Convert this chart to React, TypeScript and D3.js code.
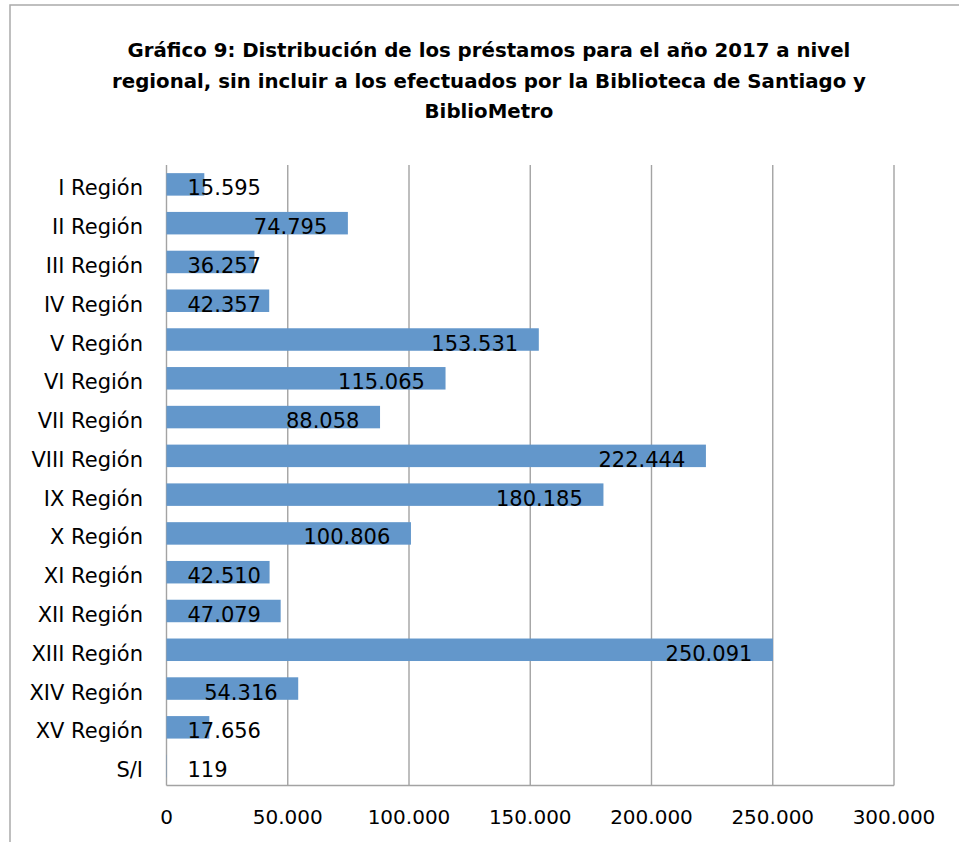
import React, { useEffect, useRef } from "react";
import * as d3 from "d3";

const titleLines = [
  "Gráfico 9: Distribución de los préstamos para el año 2017 a nivel",
  "regional, sin incluir a los efectuados por la Biblioteca de Santiago y",
  "BiblioMetro",
];

const categories = [
  "I Región", "II Región", "III Región", "IV Región", "V Región", "VI Región",
  "VII Región", "VIII Región", "IX Región", "X Región", "XI Región", "XII Región",
  "XIII Región", "XIV Región", "XV Región", "S/I",
];

const values = [
  15595, 74795, 36257, 42357, 153531, 115065, 88058, 222444, 180185, 100806,
  42510, 47079, 250091, 54316, 17656, 119,
];

const tickValues = [0, 50000, 100000, 150000, 200000, 250000, 300000];

const W = 959;
const H = 842;
const X0 = 166.5;
const X1 = 894;
const Y0 = 165;
const Y1 = 785.5;

const BAR = "#6397CB";
const GRID = "#A3A3A3";
const FONT = "'DejaVu Sans', sans-serif";
const TITLE_FONT = "'DejaVu Sans', sans-serif";

const locale = d3.formatLocale({ decimal: ",", thousands: ".", grouping: [3], currency: ["$", ""] });
const fmt = locale.format(",");

export default function App() {
  const ref = useRef<SVGSVGElement>(null);

  useEffect(() => {
    const svg = d3.select(ref.current);
    svg.selectAll("*").remove();

    const x = d3.scaleLinear().domain([0, 300000]).range([X0, X1]);
    const y = d3.scaleBand<string>().domain(categories).range([Y0, Y1]).paddingInner(0.42).paddingOuter(0.21);

    svg.append("rect").attr("width", W).attr("height", H).attr("fill", "#fff");
    // chart frame
    svg.append("rect")
      .attr("x", 10).attr("y", 5).attr("width", W + 20).attr("height", H + 20)
      .attr("fill", "none").attr("stroke", "#ABABAB").attr("stroke-width", 1.5);

    // title
    const tg = svg.append("g");
    const titleNodes = titleLines.map((t, i) =>
      tg.append("text")
        .attr("x", 489).attr("y", 57 + i * 30.5)
        .attr("text-anchor", "middle")
        .attr("font-family", TITLE_FONT).attr("font-weight", 700).attr("font-size", 20)
        .attr("fill", "#000")
        .text(t)
    );
    const w0 = (titleNodes[0].node() as SVGTextElement).getComputedTextLength();
    const size = w0 > 0 ? (20 * 723) / w0 : 19.5;
    titleNodes.forEach((n) => n.attr("font-size", size));

    // gridlines
    svg.append("g").selectAll("line").data(tickValues).join("line")
      .attr("x1", (d) => x(d)).attr("x2", (d) => x(d))
      .attr("y1", Y0).attr("y2", Y1)
      .attr("stroke", GRID).attr("stroke-width", 1.4);
    // bottom axis line
    svg.append("line")
      .attr("x1", X0).attr("x2", X1).attr("y1", Y1).attr("y2", Y1)
      .attr("stroke", GRID).attr("stroke-width", 1.4);

    // bars
    svg.append("g").selectAll("rect").data(values).join("rect")
      .attr("x", X0)
      .attr("y", (_d, i) => y(categories[i])!)
      .attr("width", (d) => x(d) - X0)
      .attr("height", y.bandwidth())
      .attr("fill", BAR);

    // value labels
    const lg = svg.append("g");
    values.forEach((v, i) => {
      const t = lg.append("text")
        .attr("font-family", FONT).attr("font-size", 21).attr("fill", "#000")
        .attr("y", y(categories[i])! + y.bandwidth() / 2 + 11)
        .text(fmt(v));
      const w = (t.node() as SVGTextElement).getComputedTextLength();
      let start = x(v) - 20.6 - w;
      if (start < X0 + 21) start = X0 + 21;
      t.attr("x", start);
    });

    // category labels
    svg.append("g").selectAll("text").data(categories).join("text")
      .attr("x", X0 - 23.5)
      .attr("y", (d) => y(d)! + y.bandwidth() / 2 + 11)
      .attr("text-anchor", "end")
      .attr("font-family", FONT).attr("font-size", 21).attr("fill", "#000")
      .text((d) => d);

    // tick labels
    svg.append("g").selectAll("text").data(tickValues).join("text")
      .attr("x", (d) => x(d))
      .attr("y", 824)
      .attr("text-anchor", "middle")
      .attr("font-family", FONT).attr("font-size", 20).attr("fill", "#000")
      .text((d) => fmt(d));
  }, []);

  return (
    <svg
      ref={ref}
      width={W}
      height={H}
      style={{ position: "absolute", left: 0, top: 0, display: "block" }}
    />
  );
}
